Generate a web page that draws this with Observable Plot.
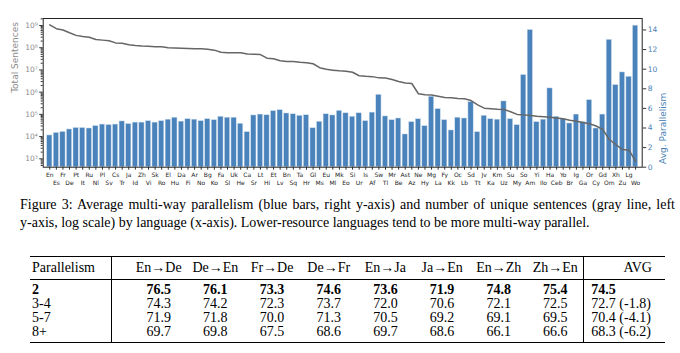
<!DOCTYPE html>
<html>
<head>
<meta charset="utf-8">
<script src="https://cdn.jsdelivr.net/npm/d3@7"></script>
<script src="https://cdn.jsdelivr.net/npm/@observablehq/plot@0.6"></script>
<style>
  html, body { margin: 0; padding: 0; background: #fff; }
  #fig { position: relative; width: 680px; height: 353px; overflow: hidden; }
  #fig svg { position: absolute; left: 0; top: 0; }
  .cap { position: absolute; left: 20px; top: 196px; width: 655px; font-family: "Liberation Serif", serif; font-size: 14px; line-height: 18px; color: #000; }
  .cap .l1 { text-align: justify; text-align-last: justify; white-space: nowrap; }
  table.t { position: absolute; left: 30px; top: 256px; width: 635px; border-collapse: collapse; table-layout: fixed;
            font-family: "Liberation Serif", serif; font-size: 14px; line-height: 14px; color: #000; }
  table.t td, table.t th { padding: 0; font-weight: normal; text-align: center; white-space: nowrap; overflow: visible; }
  table.t thead tr { border-top: 1.6px solid #000; border-bottom: 0.8px solid #000; }
  table.t thead th { height: 22px; }
  table.t tbody tr:last-child { border-bottom: 1.6px solid #000; }
  table.t .c0 { text-align: left; padding-left: 2px; border-right: 0.8px solid #000; }
  table.t .c1 { padding-left: 19px; }
  table.t .cavg { text-align: left; padding-left: 7px; border-left: 0.8px solid #000; }
  table.t th.cavg { text-align: center; padding-left: 26px; }
  table.t tbody tr.first td { padding-top: 3px; }
  table.t tbody tr.last td { padding-bottom: 3px; }
  table.t tr.bold td { font-weight: bold; }
</style>
</head>
<body>
<div id="fig"></div>
<script>
// ---------------- data ----------------
const languages = ["En","Es","Fr","De","Pt","It","Ru","Nl","Pl","Sv","Cs","Tr","Ja","Id","Zh","Vi","Sk","Ro","El","Hu",
  "Da","Fi","Ar","No","Bg","Ko","Fa","Sl","Uk","He","Ca","Sr","Lt","Hi","Et","Lv","Bn","Sq","Ta","Hr",
  "Gl","Ms","Eu","Ml","Mk","Eo","Si","Ur","Is","Af","Sw","Tl","Mr","Be","Ast","Az","Ne","Hy","Mg","La",
  "Fy","Kk","Oc","Lb","Sd","Tt","Jv","Ka","Km","Uz","Su","My","So","Am","Yi","Ilo","Ha","Ceb","Yo","Br",
  "Ig","Ga","Or","Cy","Gd","Om","Xh","Zu","Lg","Wo"];

// average multi-way parallelism (bars, right axis)
const avgParallelism = [3.24,3.5,3.6,3.85,4.0,4.0,3.95,4.2,4.35,4.3,4.35,4.67,4.4,4.55,4.55,4.7,4.55,4.7,4.85,5.05,
  4.65,4.9,4.85,4.7,4.9,4.8,5.15,5.05,5.05,4.43,3.58,5.28,5.37,5.3,5.72,5.82,5.48,5.4,5.25,5.3,
  3.98,4.64,5.4,5.28,5.75,5.5,5.15,5.5,4.7,5.57,7.39,5.18,4.8,4.97,3.34,4.6,4.9,4.19,7.19,5.93,
  4.8,3.75,5.05,4.97,6.64,3.58,5.25,4.9,4.85,6.71,4.9,4.29,9.4,14.0,4.6,4.85,8.04,5.15,4.9,4.46,
  5.37,4.6,6.84,3.95,5.37,13.0,8.38,9.67,9.23,14.44];

// total unique sentences (gray line, left log axis)
const totalSentences = [1.07e9,7.2e8,6.3e8,4.7e8,3.6e8,3.2e8,2.95e8,2.35e8,2.2e8,2.05e8,1.65e8,1.6e8,1.35e8,1.26e8,1.2e8,1.17e8,1.12e8,1.1e8,1.0e8,9.8e7,
  9.5e7,9.3e7,9.1e7,8.9e7,8.5e7,7.8e7,6.3e7,6.0e7,6.0e7,5.9e7,5.2e7,5.1e7,4.9e7,3.4e7,3.2e7,2.6e7,2.4e7,2.4e7,2.2e7,2.1e7,
  1.9e7,1.26e7,1.07e7,9.8e6,9.1e6,8.7e6,7.9e6,5.5e6,5.2e6,5.0e6,4.4e6,4.3e6,3.7e6,3.0e6,2.6e6,2.45e6,8.5e5,7.6e5,7.4e5,6.6e5,
  5.75e5,5.6e5,5.2e5,5.0e5,4.2e5,2.7e5,1.9e5,1.8e5,1.7e5,1.66e5,1.32e5,1.0e5,9.5e4,8.9e4,8.3e4,7.9e4,7.4e4,6.9e4,6.3e4,5.5e4,
  4.9e4,4.3e4,3.8e4,3.0e4,2.1e4,7.4e3,4.4e3,2.6e3,2.45e3,7.6e2];

const rightTicks = [0,2,4,6,8,10,12,14];
const leftTicks = [1e3,1e4,1e5,1e6,1e7,1e8,1e9];

const captionLine1 = "Figure 3: Average multi-way parallelism (blue bars, right y-axis) and number of unique sentences (gray line, left";
const captionLine2 = "y-axis, log scale) by language (x-axis). Lower-resource languages tend to be more multi-way parallel.";

const tableHeader = ["Parallelism","En→De","De→En","Fr→De","De→Fr","En→Ja","Ja→En","En→Zh","Zh→En","AVG"];
const tableRowLabels = ["2","3-4","5-7","8+"];
const tableValues = [
  [76.5,76.1,73.3,74.6,73.6,71.9,74.8,75.4],
  [74.3,74.2,72.3,73.7,72.0,70.6,72.1,72.5],
  [71.9,71.8,70.0,71.3,70.5,69.2,69.1,69.5],
  [69.7,69.8,67.5,68.6,69.7,68.6,66.1,66.6]
];
const tableAvg = ["74.5","72.7 (-1.8)","70.4 (-4.1)","68.3 (-6.2)"];

// ---------------- chart ----------------
const rows = languages.map((lang, i) => ({lang, par: avgParallelism[i], tot: totalSentences[i]}));
const W = 680, H = 192, mL = 42.7, mR = 38.3, mT = 18, mB = H - 166.7;
const xOpts = {type: "band", domain: languages, paddingInner: 0.2, paddingOuter: 0.6, axis: null};
const svgStyle = {fontFamily: "DejaVu Sans", background: "transparent", overflow: "visible"};
const sup = "⁰¹²³⁴⁵⁶⁷⁸⁹";
const minorTicks = [];
for (let e = 2; e <= 9; e++) for (let m = 2; m <= 9; m++) { const v = m * 10 ** e; if (v > 419 && v < 2.07e9) minorTicks.push(v); }

const barPlot = Plot.plot({
  width: W, height: H, marginLeft: mL, marginRight: mR, marginTop: mT, marginBottom: mB,
  style: svgStyle,
  x: xOpts,
  y: {domain: [0, 15.17], axis: null},
  marks: [
    Plot.barY(rows, {x: "lang", y: "par", fill: "#4a83bc", stroke: "#d4e1ee", strokeWidth: 0.5}),
    Plot.axisY({anchor: "right", ticks: rightTicks, tickSize: 3.5, tickPadding: 2, fontSize: 7.5,
      fill: "#4a7fb5", stroke: "#333", label: null}),
    Plot.text(["Avg. Parallelism"], {text: d => d, frameAnchor: "right", dx: 21.3, rotate: -90, fill: "#4a7fb5", fontSize: 9}),
    Plot.axisX({ticks: languages.filter((d, i) => i % 2 === 0), tickSize: 3, tickPadding: 2.4, fontSize: 6, fill: "#222", stroke: "#333", label: null}),
    Plot.axisX({ticks: languages.filter((d, i) => i % 2 === 1), tickSize: 3, tickPadding: 10.4, fontSize: 6, fill: "#222", stroke: "#333", label: null}),
    Plot.frame({stroke: "#222", strokeWidth: 1})
  ]
});

const linePlot = Plot.plot({
  width: W, height: H, marginLeft: mL, marginRight: mR, marginTop: mT, marginBottom: mB,
  style: svgStyle,
  x: xOpts,
  y: {type: "log", domain: [419, 2.07e9], axis: null},
  marks: [
    Plot.lineY(rows, {x: "lang", y: "tot", stroke: "#666", strokeWidth: 1.5}),
    Plot.axisY({anchor: "left", ticks: leftTicks, tickSize: 3.5, tickPadding: 2, fontSize: 7.5,
      tickFormat: d => "10" + String(Math.round(Math.log10(d))).split("").map(c => sup[+c]).join(""),
      fill: "#8a8a8a", stroke: "#333", label: null}),
    Plot.axisY({anchor: "left", ticks: minorTicks, tickSize: 2, tickFormat: () => "", stroke: "#333", label: null}),
    Plot.text(["Total Sentences"], {text: d => d, frameAnchor: "left", dx: -27.7, rotate: -90, fill: "#8a8a8a", fontSize: 9})
  ]
});

const fig = document.getElementById("fig");
fig.appendChild(barPlot);
fig.appendChild(linePlot);

// ---------------- caption ----------------
const cap = document.createElement("div");
cap.className = "cap";
const l1 = document.createElement("div"); l1.className = "l1"; l1.textContent = captionLine1;
const l2 = document.createElement("div"); l2.textContent = captionLine2;
cap.appendChild(l1); cap.appendChild(l2);
fig.appendChild(cap);

// ---------------- table ----------------
const table = document.createElement("table");
table.className = "t";
const colWidths = [81, 76, 56.7, 56.7, 56.7, 56.7, 56.7, 56.7, 56.7, 81.1];
const cg = document.createElement("colgroup");
colWidths.forEach(w => { const c = document.createElement("col"); c.style.width = w + "px"; cg.appendChild(c); });
table.appendChild(cg);
const thead = document.createElement("thead");
const htr = document.createElement("tr");
tableHeader.forEach((h, j) => {
  const th = document.createElement("th");
  th.textContent = h;
  if (j === 0) th.className = "c0";
  if (j === 1) th.className = "c1";
  if (j === tableHeader.length - 1) th.className = "cavg";
  htr.appendChild(th);
});
thead.appendChild(htr);
table.appendChild(thead);
const tbody = document.createElement("tbody");
tableRowLabels.forEach((lab, i) => {
  const tr = document.createElement("tr");
  const cls = [];
  if (i === 0) cls.push("first", "bold");
  if (i === tableRowLabels.length - 1) cls.push("last");
  tr.className = cls.join(" ");
  const td0 = document.createElement("td"); td0.className = "c0"; td0.textContent = lab; tr.appendChild(td0);
  tableValues[i].forEach((v, j) => { const td = document.createElement("td"); if (j === 0) td.className = "c1"; td.textContent = v.toFixed(1); tr.appendChild(td); });
  const tda = document.createElement("td"); tda.className = "cavg"; tda.textContent = tableAvg[i]; tr.appendChild(tda);
  tbody.appendChild(tr);
});
table.appendChild(tbody);
fig.appendChild(table);
</script>
</body>
</html>
